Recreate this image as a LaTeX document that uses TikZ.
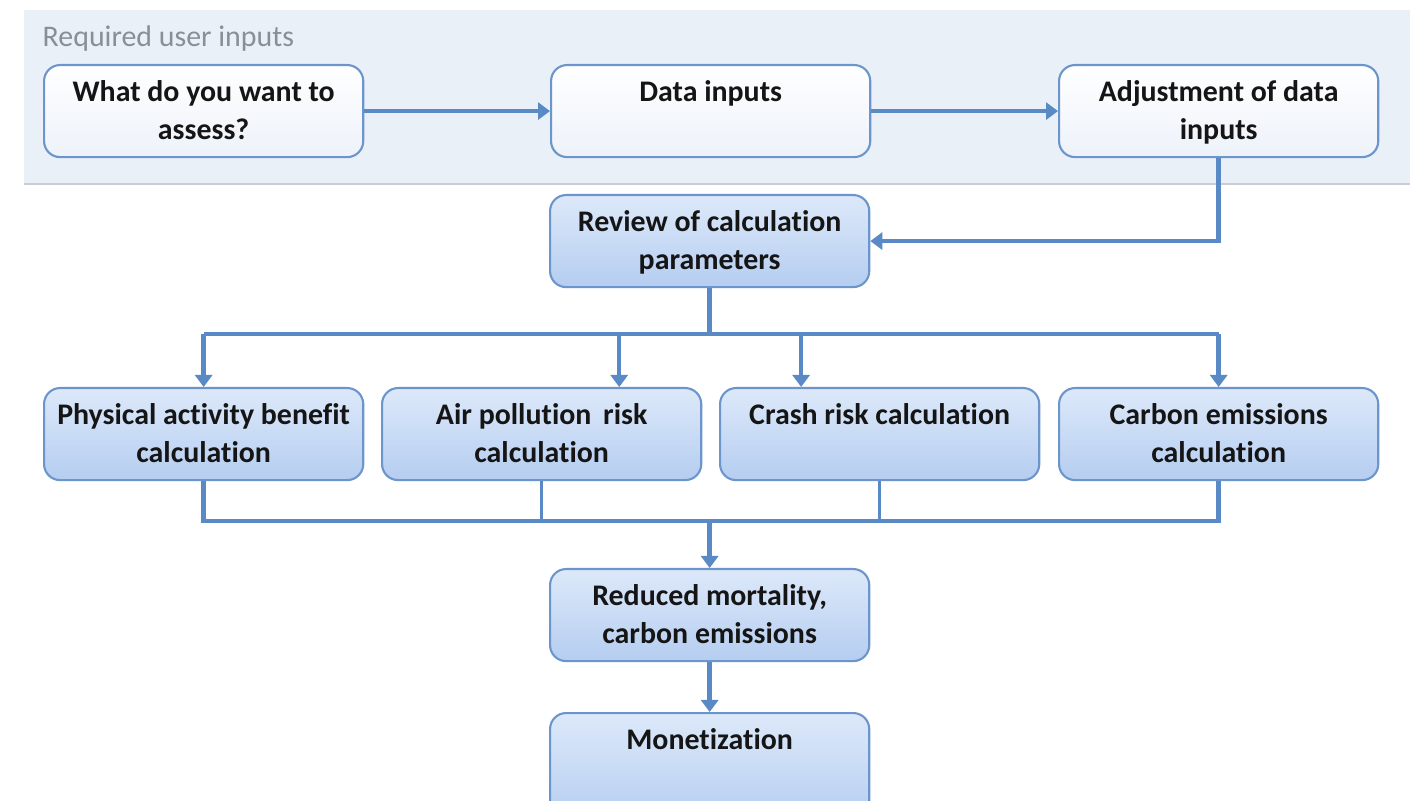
\documentclass[tikz,border=0pt]{standalone}
\usepackage{fontspec}
\setmainfont{Carlito}[Ligatures=NoCommon]
\usetikzlibrary{arrows.meta}
\definecolor{lc}{HTML}{5A8AC6}
\definecolor{bord}{HTML}{6C96CB}
\definecolor{btop}{HTML}{DDE9FA}
\definecolor{bbot}{HTML}{B5CDF0}
\definecolor{wbot}{HTML}{EDF2FA}
\definecolor{panel}{HTML}{EAF0F8}
\definecolor{panelline}{HTML}{C9CED6}
\definecolor{txt}{HTML}{151515}
\definecolor{lbl}{HTML}{8A8F96}
\tikzset{
  base/.style={draw=bord, line width=0.6pt, rounded corners=0.16cm, inner sep=0pt, anchor=north west, text=txt, font=\bfseries\fontsize{8.5}{10.8}\selectfont},
  wbox/.style={base, top color=white, bottom color=wbot},
  bbox/.style={base, top color=btop, bottom color=bbot},
  conn/.style={draw=lc, line width=1.3pt},
  thinconn/.style={draw=lc, line width=0.9pt},
  arr/.style={conn, -{Triangle[length=0.12cm,width=0.17cm]}},
}
\newcommand\bt[2][0.92cm]{\parbox[c][#1][t]{3.19cm}{\centering\rule{0pt}{0.36cm}#2\par}}
\begin{document}
\begin{tikzpicture}[x=0.01cm,y=-0.01cm]
\useasboundingbox (0,0) rectangle (1410,801);
\fill[white] (0,0) rectangle (1410,801);
\fill[panel] (24,10) rectangle (1410,184);
\draw[panelline, line width=0.4pt] (24,184) -- (1410,184);
\node[anchor=base west, text=lbl, inner sep=0pt, font=\fontsize{8.5}{9}\selectfont] (lab) at (42,47) {Required user inputs};
% top row
\node[wbox] (a) at (43,64) {\bt{What do you want to\\ assess?}};
\node[wbox] (b) at (550,64) {\bt{Data inputs}};
\node[wbox] (c) at (1058,64) {\bt{Adjustment of data\\ inputs}};
% review
\node[bbox] (rev) at (549,194) {\bt{Review of calculation\\ parameters}};
% calculations
\node[bbox] (p1) at (43,387) {\bt{Physical activity benefit\\ calculation}};
\node[bbox] (p2) at (381,387) {\bt{Air pollution\, risk\\ calculation}};
\node[bbox] (p3) at (719,387) {\bt{Crash risk calculation}};
\node[bbox] (p4) at (1058,387) {\bt{Carbon emissions\\ calculation}};
% results
\node[bbox] (red) at (549,568) {\bt{Reduced mortality,\\ carbon emissions}};
\node[bbox] (mon) at (549,712) {\bt[1.1cm]{Monetization}};
% connectors
\draw[arr] (a) -- (b);
\draw[arr] (b) -- (c);
\draw[arr] (c.south) |- (rev.east);
\path (rev.south) ++(0,46) coordinate (j1);
\draw[conn] (rev.south) -- (j1);
\draw[conn] (p1.north |- j1) -- (p4.north |- j1);
\draw[arr] (p1.north |- j1) -- (p1.north);
\draw[arr] ([xshift=0.775cm]p2.north |- j1) -- ([xshift=0.775cm]p2.north);
\draw[arr] ([xshift=-0.785cm]p3.north |- j1) -- ([xshift=-0.785cm]p3.north);
\draw[arr] (p4.north |- j1) -- (p4.north);
\path (red.north) ++(0,-47) coordinate (j2);
\draw[conn] (p1.south) -- (p1.south |- j2) -- (p4.south |- j2) -- (p4.south);
\draw[thinconn] (p2.south) -- (p2.south |- j2);
\draw[thinconn] (p3.south) -- (p3.south |- j2);
\draw[arr] (j2) -- (red.north);
\draw[arr] (red.south) -- (mon.north);
\end{tikzpicture}
\end{document}
